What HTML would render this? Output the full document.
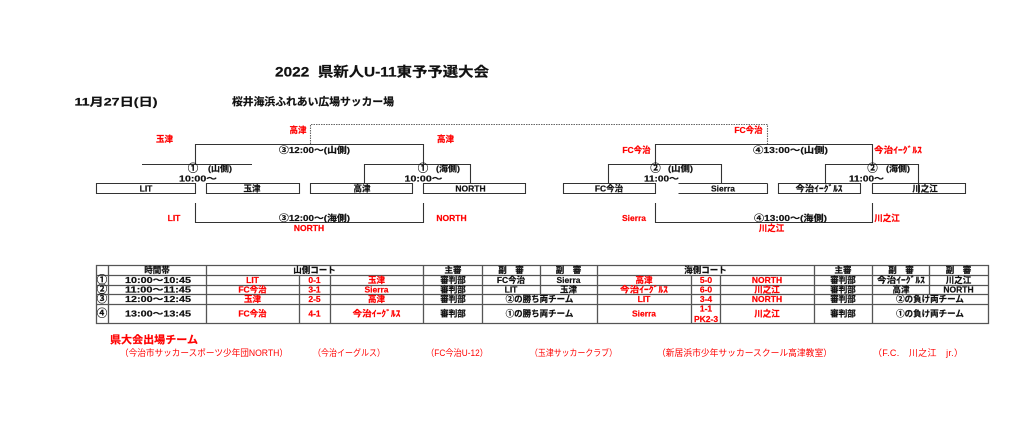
<!DOCTYPE html>
<html lang="ja">
<head>
<meta charset="utf-8">
<title>2022 県新人U-11東予予選大会</title>
<style>
html,body{margin:0;padding:0;background:#fff;width:1024px;height:440px;overflow:hidden}
svg{display:block;filter:blur(.35px)}
text{font-family:"Liberation Sans","Noto Sans CJK JP",sans-serif;font-weight:700;font-size:8.5px;fill:#111;stroke:#111;stroke-width:.2px;text-anchor:middle;dominant-baseline:central}
.r{fill:#f00;stroke:#f00}
.n{font-weight:400;font-size:9px;fill:#f00;stroke:none}
.c{font-size:10.5px}
.l{stroke:#333;stroke-width:1.1;fill:none}
.t{stroke:#555;stroke-width:1.3;fill:none}
</style>
</head>
<body>
<svg width="1024" height="440" viewBox="0 0 1024 440" xmlns="http://www.w3.org/2000/svg">
<rect width="1024" height="440" fill="#fff"/>

<text x="382" y="72" style="font-size:13.5px" textLength="214" lengthAdjust="spacingAndGlyphs">2022&#160;&#160;県新人U-11東予予選大会</text>
<text x="116" y="102.500" style="font-size:11px" textLength="83" lengthAdjust="spacingAndGlyphs">11月27日(日)</text>
<text x="313" y="102" style="font-size:10.5px" textLength="162" lengthAdjust="spacingAndGlyphs">桜井海浜ふれあい広場サッカー場</text>

<!-- brackets -->
<path class="l" d="M96.500 183.500H195.500V193.500H96.500Z M206.500 183.500H299.500V193.500H206.500Z M310.500 183.500H412.500V193.500H310.500Z M423.500 183.500H525.500V193.500H423.500Z M563.500 183.500H655.500V193.500H563.500Z M767.500 183.500V193.500H678.500 M678.500 183.500H767.500 M778.500 183.500H860.500V193.500H778.500Z M872.500 183.500H965.500V193.500H872.500Z"/>
<path class="l" d="M195.500 164V144.500H423.500V164 M142 164.500H252 M364.500 183V164.500H470.500V183 M195.500 203V222.500H423.500V203"/>
<path class="l" d="M655.500 164V144.500H872.500V164 M608.500 183V164.500H721.500V183 M825.500 183V164.500H918.500V193 M655.500 203V222.500H872.500V203"/>
<path class="l" stroke-dasharray="1.500 1" d="M310.500 144V124.500H767.500V144" style="stroke:#666"/>

<!-- left bracket labels -->
<text class="r" x="164.500" y="139">玉津</text>
<text class="r" x="298" y="130">高津</text>
<text class="r" x="445.500" y="139">高津</text>
<text x="314.500" y="150" textLength="71" lengthAdjust="spacingAndGlyphs">③12:00～(山側)</text>
<text class="c" x="193" y="168.500">①</text>
<text x="220" y="168.500" textLength="24" lengthAdjust="spacingAndGlyphs">(山側)</text>
<text x="198" y="178.500" textLength="38" lengthAdjust="spacingAndGlyphs">10:00～</text>
<text class="c" x="423" y="168.500">①</text>
<text x="448" y="168.500" textLength="24" lengthAdjust="spacingAndGlyphs">(海側)</text>
<text x="423.500" y="178.500" textLength="38" lengthAdjust="spacingAndGlyphs">10:00～</text>
<text x="146" y="188.500">LIT</text>
<text x="252" y="188.500">玉津</text>
<text x="362" y="188.500">高津</text>
<text x="470.500" y="188.500">NORTH</text>
<text class="r" x="174" y="218">LIT</text>
<text class="r" x="451.500" y="218">NORTH</text>
<text x="314.500" y="218" textLength="71" lengthAdjust="spacingAndGlyphs">③12:00～(海側)</text>
<text class="r" x="309" y="228">NORTH</text>

<!-- right bracket labels -->
<text class="r" x="748.500" y="130">FC今治</text>
<text class="r" x="636.500" y="150">FC今治</text>
<text class="r" x="898" y="150" textLength="48" lengthAdjust="spacingAndGlyphs">今治ｲｰｸﾞﾙｽ</text>
<text x="790.500" y="150" textLength="75" lengthAdjust="spacingAndGlyphs">④13:00～(山側)</text>
<text class="c" x="655.500" y="168.500">②</text>
<text x="680.500" y="168.500" textLength="25" lengthAdjust="spacingAndGlyphs">(山側)</text>
<text x="661.500" y="178.500" textLength="35" lengthAdjust="spacingAndGlyphs">11:00～</text>
<text class="c" x="872.500" y="168.500">②</text>
<text x="898" y="168.500" textLength="24" lengthAdjust="spacingAndGlyphs">(海側)</text>
<text x="866.500" y="178.500" textLength="35" lengthAdjust="spacingAndGlyphs">11:00～</text>
<text x="609" y="188.500">FC今治</text>
<text x="723" y="188.500">Sierra</text>
<text x="819" y="188.500" textLength="47" lengthAdjust="spacingAndGlyphs">今治ｲｰｸﾞﾙｽ</text>
<text x="925" y="188.500">川之江</text>
<text class="r" x="634" y="218">Sierra</text>
<text class="r" x="887" y="218">川之江</text>
<text x="790.500" y="218" textLength="73" lengthAdjust="spacingAndGlyphs">④13:00～(海側)</text>
<text class="r" x="771.500" y="228">川之江</text>

<!-- table grid -->
<path class="t" d="M96.500 265.500H988.500V323.500H96.500Z M96.500 275.500H988.500 M96.500 285.500H988.500 M96.500 294.500H988.500 M96.500 304.500H988.500
M108.500 265V323 M206.500 265V323 M299.500 275V323 M330.500 275V323 M423.500 265V323 M482.500 265V323 M540.500 265V294 M597.500 265V323 M691.500 275V323 M720.500 275V323 M814.500 265V323 M872.500 265V323 M929.500 265V294"/>

<!-- header -->
<text x="157" y="270">時間帯</text>
<text x="314.500" y="270">山側コート</text>
<text x="453" y="270">主審</text>
<text x="511" y="270">副　審</text>
<text x="568.500" y="270">副　審</text>
<text x="705.500" y="270">海側コート</text>
<text x="843" y="270">主審</text>
<text x="901" y="270">副　審</text>
<text x="958.500" y="270">副　審</text>

<!-- row 1 -->
<text class="c" x="102" y="280">①</text>
<text x="158" y="280" textLength="66" lengthAdjust="spacingAndGlyphs">10:00～10:45</text>
<text class="r" x="252.500" y="280">LIT</text>
<text class="r" x="314.500" y="280">0-1</text>
<text class="r" x="376.500" y="280">玉津</text>
<text x="453" y="280">審判部</text>
<text x="511" y="280">FC今治</text>
<text x="568.500" y="280">Sierra</text>
<text class="r" x="644" y="280">高津</text>
<text class="r" x="706" y="280">5-0</text>
<text class="r" x="767" y="280">NORTH</text>
<text x="843" y="280">審判部</text>
<text x="901" y="280" textLength="48" lengthAdjust="spacingAndGlyphs">今治ｲｰｸﾞﾙｽ</text>
<text x="958.500" y="280">川之江</text>

<!-- row 2 -->
<text class="c" x="102" y="289.500">②</text>
<text x="158" y="289.500" textLength="66" lengthAdjust="spacingAndGlyphs">11:00～11:45</text>
<text class="r" x="252.500" y="289.500">FC今治</text>
<text class="r" x="314.500" y="289.500">3-1</text>
<text class="r" x="376.500" y="289.500">Sierra</text>
<text x="453" y="289.500">審判部</text>
<text x="511" y="289.500">LIT</text>
<text x="568.500" y="289.500">玉津</text>
<text class="r" x="644" y="289.500" textLength="48" lengthAdjust="spacingAndGlyphs">今治ｲｰｸﾞﾙｽ</text>
<text class="r" x="706" y="289.500">6-0</text>
<text class="r" x="767" y="289.500">川之江</text>
<text x="843" y="289.500">審判部</text>
<text x="901" y="289.500">高津</text>
<text x="958.500" y="289.500">NORTH</text>

<!-- row 3 -->
<text class="c" x="102" y="299">③</text>
<text x="158" y="299" textLength="66" lengthAdjust="spacingAndGlyphs">12:00～12:45</text>
<text class="r" x="252.500" y="299">玉津</text>
<text class="r" x="314.500" y="299">2-5</text>
<text class="r" x="376.500" y="299">高津</text>
<text x="453" y="299">審判部</text>
<text x="539.500" y="299">②の勝ち両チーム</text>
<text class="r" x="644" y="299">LIT</text>
<text class="r" x="706" y="299">3-4</text>
<text class="r" x="767" y="299">NORTH</text>
<text x="843" y="299">審判部</text>
<text x="930" y="299">②の負け両チーム</text>

<!-- row 4 -->
<text class="c" x="102" y="313.500">④</text>
<text x="158" y="313.500" textLength="66" lengthAdjust="spacingAndGlyphs">13:00～13:45</text>
<text class="r" x="252.500" y="313.500">FC今治</text>
<text class="r" x="314.500" y="313.500">4-1</text>
<text class="r" x="376.500" y="313.500" textLength="48" lengthAdjust="spacingAndGlyphs">今治ｲｰｸﾞﾙｽ</text>
<text x="453" y="313.500">審判部</text>
<text x="539.500" y="313.500">①の勝ち両チーム</text>
<text class="r" x="644" y="313.500">Sierra</text>
<text class="r" x="706" y="308.500">1-1</text>
<text class="r" x="706" y="319">PK2-3</text>
<text class="r" x="767" y="313.500">川之江</text>
<text x="843" y="313.500">審判部</text>
<text x="930" y="313.500">①の負け両チーム</text>

<!-- footer -->
<text class="r" x="154" y="340" style="font-size:10.500px" textLength="88" lengthAdjust="spacingAndGlyphs">県大会出場チーム</text>
<text class="n" x="204" y="353" textLength="168" lengthAdjust="spacingAndGlyphs">（今治市サッカースポーツ少年団NORTH）</text>
<text class="n" x="349" y="353" textLength="72" lengthAdjust="spacingAndGlyphs">（今治イーグルス）</text>
<text class="n" x="457" y="353" textLength="62" lengthAdjust="spacingAndGlyphs">（FC今治U-12）</text>
<text class="n" x="573.500" y="353" textLength="87" lengthAdjust="spacingAndGlyphs">（玉津サッカークラブ）</text>
<text class="n" x="744.500" y="353" textLength="175" lengthAdjust="spacingAndGlyphs">（新居浜市少年サッカースクール高津教室）</text>
<text class="n" x="918" y="353" textLength="90" lengthAdjust="spacing">（F.C.　川之江　jr.）</text>
</svg>
</body>
</html>
